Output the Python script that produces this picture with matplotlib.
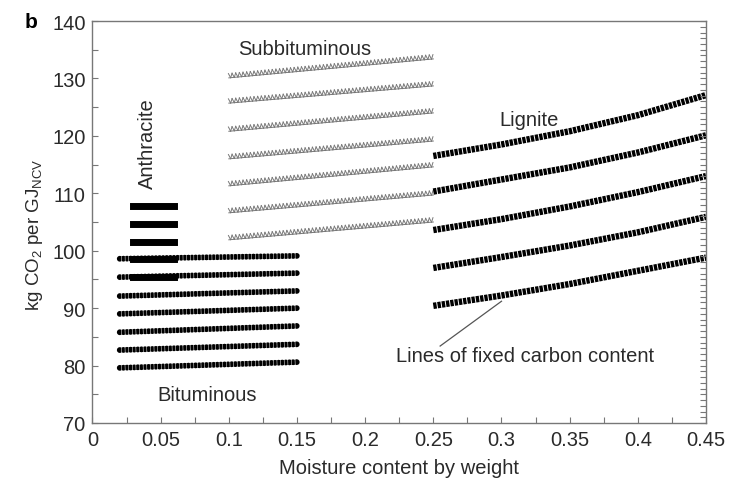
import matplotlib
matplotlib.use("Agg")
import matplotlib.pyplot as plt
import matplotlib.patheffects as pe
from matplotlib.ticker import MultipleLocator

plt.rcParams['font.family'] = ['Liberation Sans', 'DejaVu Sans']
plt.rcParams['font.size'] = 14.5
plt.rcParams['mathtext.default'] = 'regular'
plt.rcParams['lines.scale_dashes'] = False

# ---------- datos ----------
# Bituminoso: filas rectas, valor a la izquierda y a la derecha
bit_x = [0.02, 0.15]
bit_izq = [79.6, 82.7, 85.8, 89.0, 92.1, 95.4, 98.6]
bit_der = [80.6, 83.7, 86.9, 90.0, 93.0, 96.1, 99.1]

# Antracita: filas horizontales
ant_x = [0.03, 0.06]
ant_y = [95.5, 98.6, 101.5, 104.7, 107.8]

# Subbituminoso
sub_x = [0.10, 0.25]
sub_izq = [101.9, 106.6, 111.3, 116.0, 120.8, 125.7, 130.1]
sub_der = [105.0, 109.7, 114.6, 119.1, 124.0, 128.7, 133.4]

# Lignito: filas curvas leídas cada 0.05
lig_x = [0.25, 0.30, 0.35, 0.40, 0.45]
lig_filas = [
    [90.4, 92.2, 94.2, 96.5, 98.8],
    [97.0, 98.9, 100.9, 103.2, 105.9],
    [103.6, 105.5, 107.7, 110.2, 113.0],
    [110.3, 112.4, 114.5, 117.1, 120.1],
    [116.5, 118.5, 120.8, 123.6, 127.1],
]

# Línea guía de la etiqueta
guia_x = [0.255, 0.300]
guia_y = [83.4, 91.2]

x_ticks = [0, 0.05, 0.1, 0.15, 0.2, 0.25, 0.3, 0.35, 0.4, 0.45]
x_labels = ['0', '0.05', '0.1', '0.15', '0.2', '0.25', '0.3', '0.35', '0.4', '0.45']
y_ticks = [70, 80, 90, 100, 110, 120, 130, 140]

gris = '#777777'
texto = '#2a2a2a'

fig = plt.figure(figsize=(7.3, 4.85), dpi=100)
ax = fig.add_axes([0.1267, 0.1258, 0.8404, 0.8288])

# ---------- Bituminoso (círculos negros solapados) ----------
for yl, yr in zip(bit_izq, bit_der):
    ax.plot(bit_x, [yl, yr], color='black', lw=4.2, linestyle=(0, (0.1, 2.5)),
            dash_capstyle='round', zorder=3)
    ax.plot(bit_x, [yl, yr], color='white', lw=0.5, zorder=3.5,
            path_effects=[pe.TickedStroke(offset=(0, -2.1), spacing=2.6, angle=90,
                                          length=1.6, linewidth=0.35,
                                          foreground='white')])

# ---------- Antracita ----------
for y in ant_y:
    ax.plot(ant_x, [y, y], color='black', lw=5.0, solid_capstyle='projecting', zorder=4)

# ---------- Subbituminoso (triángulos abiertos) ----------
for yl, yr in zip(sub_izq, sub_der):
    ax.plot(sub_x, [yl, yr], color=gris, lw=0.7, zorder=3,
            path_effects=[pe.Normal(),
                          pe.TickedStroke(spacing=2.6, angle=67, length=1.3,
                                          linewidth=0.7, foreground=gris),
                          pe.TickedStroke(spacing=2.6, angle=113, length=1.3,
                                          linewidth=0.7, foreground=gris)])

# ---------- Lignito (cuadrados negros) ----------
for fila in lig_filas:
    ax.plot(lig_x, fila, color='black', lw=4.6, linestyle=(0, (2.4, 0.7)),
            dash_capstyle='butt', zorder=3)

ax.plot(guia_x, guia_y, color='#555555', lw=0.9, zorder=2)

# ---------- textos ----------
ax.text(0.1555, 135.3, 'Subbituminous', ha='center', va='center', color=texto)
ax.text(0.040, 118.8, 'Anthracite', ha='center', va='center', rotation=90, color=texto)
ax.text(0.320, 122.9, 'Lignite', ha='center', va='center', color=texto)
ax.text(0.084, 75.0, 'Bituminous', ha='center', va='center', color=texto)
ax.text(0.317, 81.7, 'Lines of fixed carbon content', ha='center', va='center', color=texto)
fig.text(31 / 730, 1 - 22 / 485, 'b', ha='center', va='center', fontsize=15,
         fontweight='bold', color='black')

# ---------- ejes ----------
ax.set_xlim(0, 0.45)
ax.set_ylim(70, 140)
ax.set_xticks(x_ticks, x_labels)
ax.set_yticks(y_ticks)
ax.xaxis.set_minor_locator(MultipleLocator(0.025))
ax.yaxis.set_minor_locator(MultipleLocator(5))
ax.tick_params(which='both', direction='in', length=4, width=0.8, color=gris,
               labelcolor=texto, top=False, right=False, pad=5)

ax.set_xlabel('Moisture content by weight', color=texto)
ax.xaxis.set_label_coords(0.5, -0.088)
ax.set_ylabel('kg CO$_2$ per GJ$_{NCV}$', color=texto, fontsize=13.5)
ax.yaxis.set_label_coords(-0.078, 0.47)

for s in ax.spines.values():
    s.set_color(gris)
    s.set_linewidth(1.0)

# Eje derecho con marcas cada unidad
ax2 = ax.twinx()
ax2.set_ylim(70, 140)
ax2.yaxis.set_major_locator(MultipleLocator(1))
ax2.tick_params(direction='in', length=4, width=0.8, color=gris, labelright=False)
for s in ax2.spines.values():
    s.set_visible(False)

fig.savefig('out.png', dpi=100)
